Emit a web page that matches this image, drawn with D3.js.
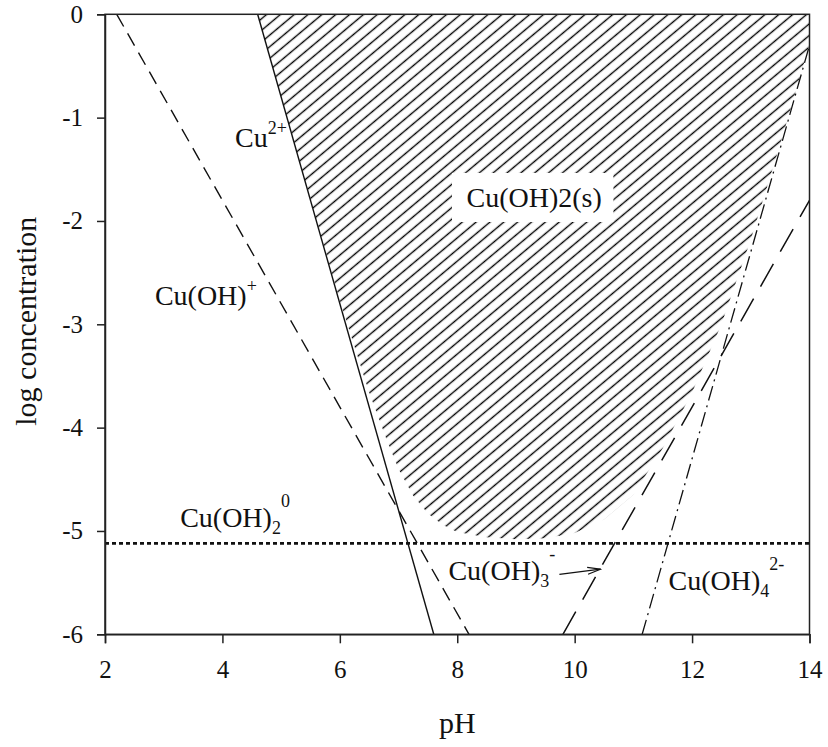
<!DOCTYPE html>
<html>
<head>
<meta charset="utf-8">
<script src="https://cdn.jsdelivr.net/npm/d3@7"></script>
<style>
  html, body { margin: 0; padding: 0; background: #fff; }
  svg { display: block; }
  text { font-family: "Liberation Serif", "DejaVu Serif", serif; fill: #111; }
</style>
</head>
<body>
<svg id="chart" width="828" height="747"></svg>
<script>
// Axis ranges and tick labels
const xTicks = [2, 4, 6, 8, 10, 12, 14];
const yTicks = [0, -1, -2, -3, -4, -5, -6];

// Species lines: [pH, log concentration] end points
const cu2Line    = [[4.6, 0], [7.6, -6]];        // Cu2+
const cuOHLine   = [[2.2, 0], [8.2, -6]];        // Cu(OH)+
const cuOH2Line  = [[2, -5.12], [14, -5.12]];    // Cu(OH)2 (aq)
const cuOH3Line  = [[9.8, -6], [14, -1.8]];      // Cu(OH)3-
const cuOH4Line  = [[11.15, -6], [14, -0.3]];    // Cu(OH)4 2-

// Total dissolved copper (solubility boundary of Cu(OH)2(s))
const solubilityPH  = [4.6, 5.0, 5.5, 6.0, 6.5, 6.8, 7.0, 7.25, 7.5, 7.75, 8.0, 8.5, 9.0, 9.5, 10.0, 10.5, 11.0, 11.5, 12.0, 12.5, 13.0, 13.5, 14.0];
const solubilityLog = [0.0, -0.8, -1.79, -2.77, -3.66, -4.12, -4.40, -4.66, -4.83, -4.94, -5.01, -5.06, -5.08, -5.07, -5.02, -4.89, -4.65, -4.20, -3.66, -3.0, -2.18, -1.26, -0.29];

const svg = d3.select("#chart");
const mLeft = 105, mRight = 809.5, mTop = 14.3, mBottom = 634.3;

const x = d3.scaleLinear().domain([2, 14]).range([mLeft, mRight]);
const y = d3.scaleLinear().domain([-6, 0]).range([mBottom, mTop]);

// Hatch pattern for the solid-phase region
const hatchGap = 8.9;
const defs = svg.append("defs");
const pat = defs.append("pattern")
  .attr("id", "hatch")
  .attr("patternUnits", "userSpaceOnUse")
  .attr("width", hatchGap).attr("height", hatchGap)
  .attr("patternTransform", "rotate(-40)");
pat.append("line")
  .attr("x1", 0).attr("y1", hatchGap / 2).attr("x2", hatchGap).attr("y2", hatchGap / 2)
  .attr("stroke", "#000").attr("stroke-width", 1.4);

defs.append("clipPath").attr("id", "plotClip")
  .append("rect").attr("x", mLeft).attr("y", mTop)
  .attr("width", mRight - mLeft).attr("height", mBottom - mTop);

defs.append("marker")
  .attr("id", "openArrow")
  .attr("viewBox", "0 0 14 10").attr("refX", 13).attr("refY", 5)
  .attr("markerWidth", 14).attr("markerHeight", 10)
  .attr("markerUnits", "userSpaceOnUse")
  .attr("orient", "auto")
  .append("path").attr("d", "M0,1.5 L13,5 L0,8.5")
  .attr("fill", "none").attr("stroke", "#111").attr("stroke-width", 1.2);

const plot = svg.append("g").attr("clip-path", "url(#plotClip)");

// Cu(OH)2(s) region: above the solubility boundary, up to log c = 0
const regionPts = solubilityPH.map((p, i) => [p, solubilityLog[i]]);
regionPts.push([14, 0]);
plot.append("path")
  .datum(regionPts)
  .attr("d", d3.line().x(d => x(d[0])).y(d => y(d[1])))
  .attr("fill", "url(#hatch)")
  .attr("stroke", "none");

// Label box inside the hatched region
plot.append("rect")
  .attr("x", x(7.91)).attr("y", y(-1.535))
  .attr("width", x(10.66) - x(7.91)).attr("height", y(-2.01) - y(-1.535))
  .attr("fill", "#fff");

const line = d3.line().x(d => x(d[0])).y(d => y(d[1]));
const drawLine = (data, dash, width) => plot.append("path")
  .datum(data).attr("d", line)
  .attr("fill", "none").attr("stroke", "#111")
  .attr("stroke-width", width)
  .attr("stroke-dasharray", dash);

drawLine(cu2Line, null, 1.4);
drawLine(cuOHLine, "14,8", 1.4);
drawLine(cuOH2Line, "4,3", 2.6);
drawLine(cuOH3Line, "26,14", 1.5);
drawLine(cuOH4Line, "15,5,2,5", 1.3);

// Frame
svg.append("rect")
  .attr("x", mLeft).attr("y", mTop)
  .attr("width", mRight - mLeft).attr("height", mBottom - mTop)
  .attr("fill", "none").attr("stroke", "#222").attr("stroke-width", 1.5);

// Axes
const xAxis = svg.append("g").attr("transform", `translate(0,${mBottom})`)
  .call(d3.axisBottom(x).tickValues(xTicks).tickSize(9).tickPadding(17).tickFormat(d3.format("d")));
const yAxis = svg.append("g").attr("transform", `translate(${mLeft},0)`)
  .call(d3.axisLeft(y).tickValues(yTicks).tickSize(8).tickPadding(14).tickFormat(d => d === 0 ? "0" : "-" + Math.abs(d)));
[xAxis, yAxis].forEach(a => {
  a.select(".domain").attr("stroke", "#222").attr("stroke-width", 1.5);
  a.selectAll(".tick line").attr("stroke", "#222").attr("stroke-width", 1.5);
  a.selectAll(".tick text")
    .style("font-family", '"Liberation Serif", serif')
    .style("font-size", "25px").attr("fill", "#111");
});

// Axis titles
svg.append("text")
  .attr("x", x(8)).attr("y", 733)
  .attr("text-anchor", "middle").style("font-size", "30px")
  .text("pH");
svg.append("text")
  .attr("transform", `translate(36,${y(-2.97)}) rotate(-90)`)
  .attr("text-anchor", "middle").style("font-size", "30px")
  .text("log concentration");

// Species labels
const sub = t => t.append("tspan").attr("baseline-shift", "-7").style("font-size", "18px");
const sup = t => t.append("tspan").attr("baseline-shift", "13").style("font-size", "18px");

const labelSize = "28px";

let t = svg.append("text").attr("x", x(4.216)).attr("y", y(-1.284)).style("font-size", labelSize);
t.append("tspan").text("Cu");
sup(t).text("2+");

t = svg.append("text").attr("x", x(2.85)).attr("y", y(-2.81)).style("font-size", labelSize);
t.append("tspan").text("Cu(OH)");
sup(t).text("+");

t = svg.append("text").attr("x", x(9.31)).attr("y", y(-1.865))
  .attr("text-anchor", "middle").style("font-size", labelSize);
t.text("Cu(OH)2(s)");

t = svg.append("text").attr("x", x(3.28)).attr("y", y(-4.96)).style("font-size", labelSize);
t.append("tspan").text("Cu(OH)");
sub(t).text("2");
t.append("tspan").attr("baseline-shift", "20").style("font-size", "18px").text("0");

t = svg.append("text").attr("x", x(7.85)).attr("y", y(-5.47)).style("font-size", labelSize);
t.append("tspan").text("Cu(OH)");
sub(t).text("3");
t.append("tspan").attr("baseline-shift", "20").style("font-size", "18px").text("-");

t = svg.append("text").attr("x", x(11.6)).attr("y", y(-5.57)).style("font-size", labelSize);
t.append("tspan").text("Cu(OH)");
sub(t).text("4");
t.append("tspan").attr("baseline-shift", "20").style("font-size", "18px").text("2-");

// Arrow pointing to the Cu(OH)3- line
svg.append("line")
  .attr("x1", x(9.74)).attr("y1", y(-5.42))
  .attr("x2", x(10.44)).attr("y2", y(-5.37))
  .attr("stroke", "#111").attr("stroke-width", 1.2)
  .attr("marker-end", "url(#openArrow)");
</script>
</body>
</html>
